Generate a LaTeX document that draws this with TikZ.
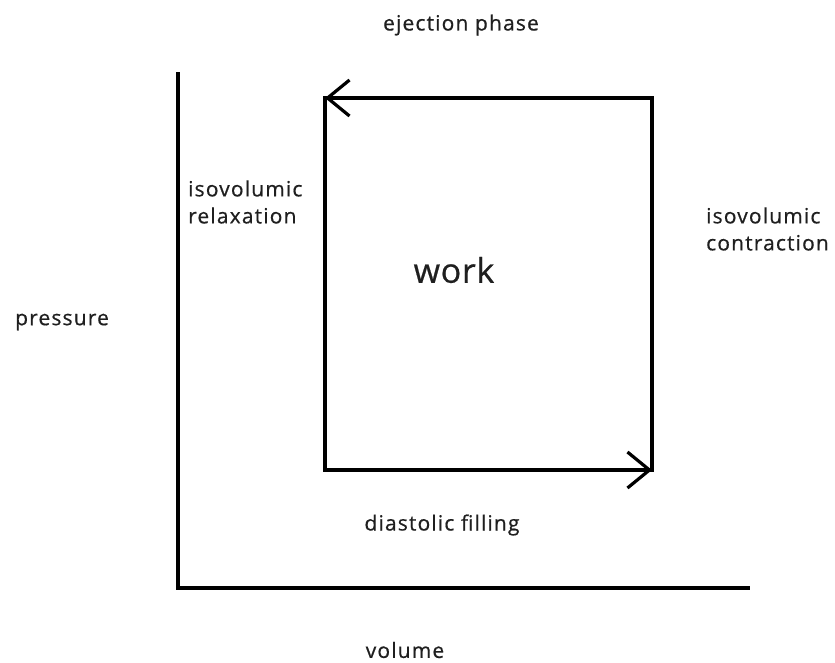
\documentclass[tikz,border=0pt]{standalone}
\usepackage{fontspec}
\setmainfont{Open Sans}[LetterSpace=5.5,FakeBold=0.6]
\usetikzlibrary{arrows.meta}
\begin{document}
\begin{tikzpicture}[x=1pt,y=-1pt,
  lbl/.style={font=\fontsize{21}{27}\selectfont, text=black!88, inner sep=0pt},
  heavy/.style={line width=3.6pt, line cap=rect},
  tip/.style={-{Straight Barb[length=22pt,width=36pt,line width=3.2pt]}}]
\useasboundingbox (0,0) rectangle (835,662);
% axes
\coordinate (ytop) at (178,72);
\coordinate (orig) at (178,588);
\coordinate (xend) at (750,588);
\draw[line width=3.2pt] (ytop) -- (orig) -- (xend);
% cycle corners
\coordinate (tl) at (325,98);
\coordinate (tr) at (652,98);
\coordinate (br) at (652,470);
\coordinate (bl) at (325,470);
\draw[heavy] (tl) -- (bl) -- (br);
\draw[heavy] (br) -- (tr) -- (tl);
\draw[heavy,tip,line cap=butt] (tr) -- (tl);
\draw[heavy,tip,line cap=butt] (bl) -- (br);
% labels
\node[lbl] (ej) at (461,25) {ejection phase};
\node[lbl,align=left,anchor=west] (ir) at (188,202) {isovolumic\\relaxation};
\node[lbl,align=left,anchor=west] (ic) at (706,229) {isovolumic\\contraction};
\node[lbl,font=\fontsize{34}{40}\selectfont\addfontfeatures{LetterSpace=2}] (wk) at (454,270) {work};
\node[lbl,anchor=west] (pr) at (15,322) {pressure};
\node[lbl] (df) at (442,525) {diastolic filling};
\node[lbl] (vo) at (405,650) {volume};
\end{tikzpicture}
\end{document}
